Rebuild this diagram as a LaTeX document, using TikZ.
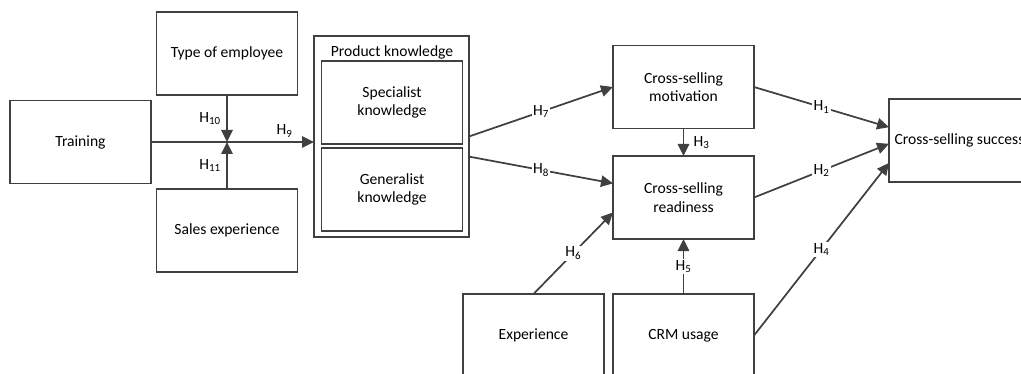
\documentclass[tikz,border=0pt]{standalone}
\usepackage{fontspec}
\setmainfont{Carlito}
\usetikzlibrary{arrows.meta,calc}
\definecolor{edgegray}{RGB}{64,64,64}
\tikzset{
  box/.style={draw=edgegray, line width=0.9pt, minimum width=105.75pt, minimum height=62.25pt,
    inner sep=0pt, outer sep=0pt, align=center, font=\fontsize{11.7}{14}\selectfont},
  link/.style={draw=edgegray, line width=1.3pt, -{Triangle[length=9pt,width=8.5pt]}},
  plain/.style={draw=edgegray, line width=1.3pt},
  hyp/.style={font=\fontsize{11.7}{14}\selectfont, fill=white, inner sep=1pt},
}
\begin{document}
\begin{tikzpicture}[x=0.75pt, y=-0.75pt]
        \useasboundingbox (0,0) rectangle (1021,374);
        \clip (0,0) rectangle (1021,374);
        % moderators and training
        \node[box] (type)  at (227,53.5)  {Type of employee};
        \node[box] (train) at (80.5,142)  {Training};
        \node[box] (sales) at (227,230.5) {Sales experience};
        % product knowledge
        \node[box, minimum width=116.25pt, minimum height=150.75pt] (pk) at (391.5,136.5) {};
        \node[font=\fontsize{11.7}{14}\selectfont] (pktitle) at (392,52) {Product knowledge};
        \node[box] (spec) at (392,102.5) {Specialist\\knowledge};
        \node[box] (gen)  at (392,189.5) {Generalist\\knowledge};
        % cross-selling
        \node[box] (mot)   at (683.5,87)    {Cross-selling\\motivation};
        \node[box] (ready) at (683.5,197.5) {Cross-selling\\readiness};
        \node[box] (succ)  at (959.5,140.5) {Cross-selling success};
        \node[box] (exp)   at (533.5,335.5) {Experience};
        \node[box] (crm)   at (683.5,335.5) {CRM usage};
        \coordinate (junc) at (type.south |- train.east);
        % hypotheses
        \draw[link] (train.east) -- (train.east -| pk.west) node[pos=0.82, above=2pt, hyp, fill=none] {H\textsubscript{9}};
        \draw[link] (type.south) -- (junc) node[midway, left=3pt, hyp, fill=none] {H\textsubscript{10}};
        \draw[link] (sales.north) -- (junc) node[midway, left=3pt, hyp, fill=none] {H\textsubscript{11}};
        \draw[link] (pk.east) -- (mot.west) node[midway, hyp] {H\textsubscript{7}};
        \draw[link] ($(pk.north east)!0.6!(pk.south east)$) -- ($(ready.north west)!0.33!(ready.south west)$) node[midway, hyp] {H\textsubscript{8}};
        \draw[link] (mot.south) -- (ready.north) node[midway, right=6pt, hyp, fill=none] {H\textsubscript{3}};
        \draw[link] (exp.north) -- ($(ready.north west)!0.68!(ready.south west)$) node[midway, hyp] {H\textsubscript{6}};
        \draw[link] (crm.north) -- (ready.south) node[midway, hyp] {H\textsubscript{5}};
        \draw[link] (mot.east) -- ($(succ.north west)!0.34!(succ.south west)$) node[midway, hyp] {H\textsubscript{1}};
        \draw[link] (ready.east) -- ($(succ.north west)!0.54!(succ.south west)$) node[midway, hyp] {H\textsubscript{2}};
        \draw[link] (crm.east) -- ($(succ.north west)!0.77!(succ.south west)$) node[midway, hyp] {H\textsubscript{4}};
\end{tikzpicture}
\end{document}
